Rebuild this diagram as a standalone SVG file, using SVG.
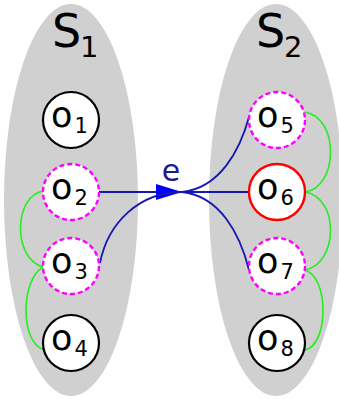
<svg xmlns="http://www.w3.org/2000/svg" width="339" height="399" viewBox="0 0 339 399">
<defs>
<style>
.set{fill:#d0d0d0;stroke:none}
.lbl{font-family:"DejaVu Sans",sans-serif;fill:#000}
.big{font-size:46px}
.bsub{font-size:29px}
.o{font-size:35px}
.osub{font-size:21px}
.plain{fill:#fff;stroke:#000;stroke-width:2.2}
.dash{fill:#fff;stroke:#ff00ff;stroke-width:2.4;stroke-dasharray:5,3}
.red{fill:#fff;stroke:#ff0000;stroke-width:2.4}
.blue{fill:none;stroke:#1616b4;stroke-width:1.8}
.green{fill:none;stroke:#22ee22;stroke-width:1.6}
</style>
<marker id="ah" markerUnits="userSpaceOnUse" markerWidth="28" markerHeight="20" refX="26" refY="10" orient="auto">
<polygon points="0,2 26,10 0,18" fill="#0000ff"/>
</marker>
</defs>
<g id="S1">
<ellipse class="set" cx="71" cy="200" rx="67" ry="196"/>
<text class="lbl big" x="52" y="47">S<tspan class="bsub" x="80" y="57">1</tspan></text>
</g>
<g id="S2">
<ellipse class="set" cx="276" cy="200" rx="67" ry="196"/>
<text class="lbl big" x="256" y="47">S<tspan class="bsub" x="284" y="57">2</tspan></text>
</g>
<g id="connectors">
<path class="green" d="M43,191 C14,196 12,258 43,267"/>
<path class="green" d="M43,267 C20,280 20,345 45,350"/>
<path class="green" d="M305,112 C340,118 338,188 305,192"/>
<path class="green" d="M305,192 C340,198 338,264 305,270"/>
<path class="green" d="M305,270 C330,278 328,346 305,350"/>
<path class="blue" d="M99,192 L182,192" marker-end="url(#ah)"/>
<path class="blue" d="M182,192 L249,192"/>
<path class="blue" d="M100,263 C108,222 140,192 182,192"/>
<path class="blue" d="M182,192 C220,188 240,150 249,117"/>
<path class="blue" d="M182,192 C220,196 240,234 249,270"/>
<text class="lbl" x="171" y="181" text-anchor="middle" style="font-size:30px;fill:#1a1a8c">e</text>
</g>
<g id="o1"><circle class="plain" cx="71" cy="120" r="28"/><text class="lbl o" x="51" y="127">o<tspan class="osub" x="74.5" y="133">1</tspan></text></g>
<g id="o2"><circle class="dash" cx="71" cy="192" r="28"/><text class="lbl o" x="51" y="199">o<tspan class="osub" x="74.5" y="205">2</tspan></text></g>
<g id="o3"><circle class="dash" cx="71" cy="266" r="28"/><text class="lbl o" x="51" y="273">o<tspan class="osub" x="74.5" y="279">3</tspan></text></g>
<g id="o4"><circle class="plain" cx="71" cy="343" r="28"/><text class="lbl o" x="51" y="350">o<tspan class="osub" x="74.5" y="356">4</tspan></text></g>
<g id="o5"><circle class="dash" cx="277" cy="120" r="28"/><text class="lbl o" x="257" y="127">o<tspan class="osub" x="280.5" y="133">5</tspan></text></g>
<g id="o6"><circle class="red" cx="277" cy="192" r="28"/><text class="lbl o" x="257" y="199">o<tspan class="osub" x="280.5" y="205">6</tspan></text></g>
<g id="o7"><circle class="dash" cx="277" cy="266" r="28"/><text class="lbl o" x="257" y="273">o<tspan class="osub" x="280.5" y="279">7</tspan></text></g>
<g id="o8"><circle class="plain" cx="277" cy="343" r="28"/><text class="lbl o" x="257" y="350">o<tspan class="osub" x="280.5" y="356">8</tspan></text></g>
</svg>
